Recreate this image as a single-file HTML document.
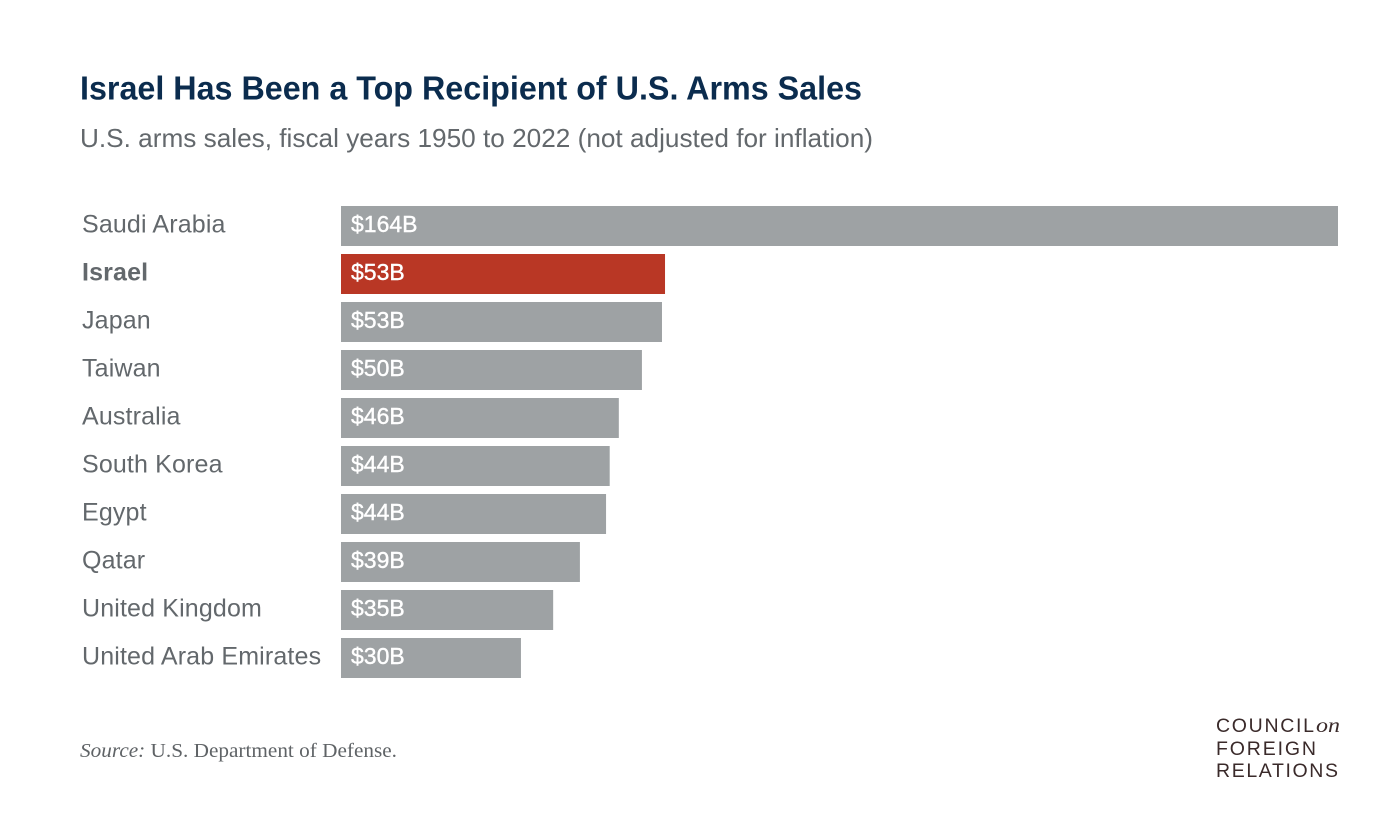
<!DOCTYPE html>
<html lang="en">
<head>
<meta charset="utf-8">
<title>Israel Has Been a Top Recipient of U.S. Arms Sales</title>
<style>
html,body{margin:0;padding:0;background:#fff;width:1388px;height:830px;overflow:hidden}
svg{display:block}
text{font-family:"Liberation Sans",sans-serif}
.cat{font-size:25px;fill:#63686c;letter-spacing:0.15px}
.val{font-size:23px;fill:#fff;font-weight:400;stroke:#fff;stroke-width:0.4px}
</style>
</head>
<body>
<svg id="chart" xmlns="http://www.w3.org/2000/svg" width="1388" height="830" viewBox="0 0 1388 830">
  <rect width="1388" height="830" fill="#fff"/>
  <text x="80" y="99.5" font-size="33" font-weight="700" fill="#0b2c4e" textLength="782" lengthAdjust="spacingAndGlyphs">Israel Has Been a Top Recipient of U.S. Arms Sales</text>
  <text x="80" y="147" font-size="26" fill="#63686c" textLength="793" lengthAdjust="spacingAndGlyphs">U.S. arms sales, fiscal years 1950 to 2022 (not adjusted for inflation)</text>
  <g id="bars"></g>
  <text x="80" y="757" font-size="20" fill="#5f6366" style="font-family:'Liberation Serif',serif" textLength="317" lengthAdjust="spacingAndGlyphs"><tspan font-style="italic">Source:</tspan> U.S. Department of Defense.</text>
  <g fill="#3a2a2a">
    <text x="1216" y="732" font-size="19.5" textLength="98" lengthAdjust="spacing">COUNCIL</text>
    <text x="1316" y="732" font-size="20" font-style="italic" style="font-family:'Liberation Serif',serif" textLength="24" lengthAdjust="spacingAndGlyphs">on</text>
    <text x="1216" y="755" font-size="19.5" textLength="100" lengthAdjust="spacing">FOREIGN</text>
    <text x="1216" y="777" font-size="19.5" textLength="122" lengthAdjust="spacing">RELATIONS</text>
  </g>
</svg>
<script>
const categories = ["Saudi Arabia","Israel","Japan","Taiwan","Australia","South Korea","Egypt","Qatar","United Kingdom","United Arab Emirates"];
const salesBillions = [164, 53.3, 52.8, 49.5, 45.7, 44.2, 43.6, 39.3, 34.9, 29.6];
const valueLabels = ["$164B","$53B","$53B","$50B","$46B","$44B","$44B","$39B","$35B","$30B"];
const highlighted = ["Israel"];

const SVG_NS = "http://www.w3.org/2000/svg";
const barsGroup = document.getElementById("bars");
const xOrigin = 341;
const pxPerBillion = 997 / 164;
const firstBarTop = 206;
const rowStep = 48;
const barHeight = 40;
function xScale(v) { return xOrigin + v * pxPerBillion; }
function yScale(i) { return firstBarTop + i * rowStep; }

categories.forEach(function (name, i) {
  const isHighlighted = highlighted.indexOf(name) !== -1;
  const slug = name.toLowerCase().replace(/\s+/g, "-");

  const label = document.createElementNS(SVG_NS, "text");
  
  
  label.setAttribute("class", "cat");
  label.setAttribute("x", 82);
  label.setAttribute("y", yScale(i) + 26.5);
  label.setAttribute("font-weight", isHighlighted ? "700" : "400");
  label.textContent = name;
  barsGroup.appendChild(label);

  const bar = document.createElementNS(SVG_NS, "rect");
  
  
  bar.setAttribute("x", xScale(0));
  bar.setAttribute("y", yScale(i));
  bar.setAttribute("width", xScale(salesBillions[i]) - xScale(0));
  bar.setAttribute("height", barHeight);
  bar.setAttribute("fill", isHighlighted ? "#b93725" : "#9ea2a4");
  barsGroup.appendChild(bar);

  const value = document.createElementNS(SVG_NS, "text");
  
  
  value.setAttribute("class", "val");
  value.setAttribute("x", xScale(0) + 10);
  value.setAttribute("y", yScale(i) + 26);
  value.textContent = valueLabels[i];
  barsGroup.appendChild(value);
});
</script>
</body>
</html>
